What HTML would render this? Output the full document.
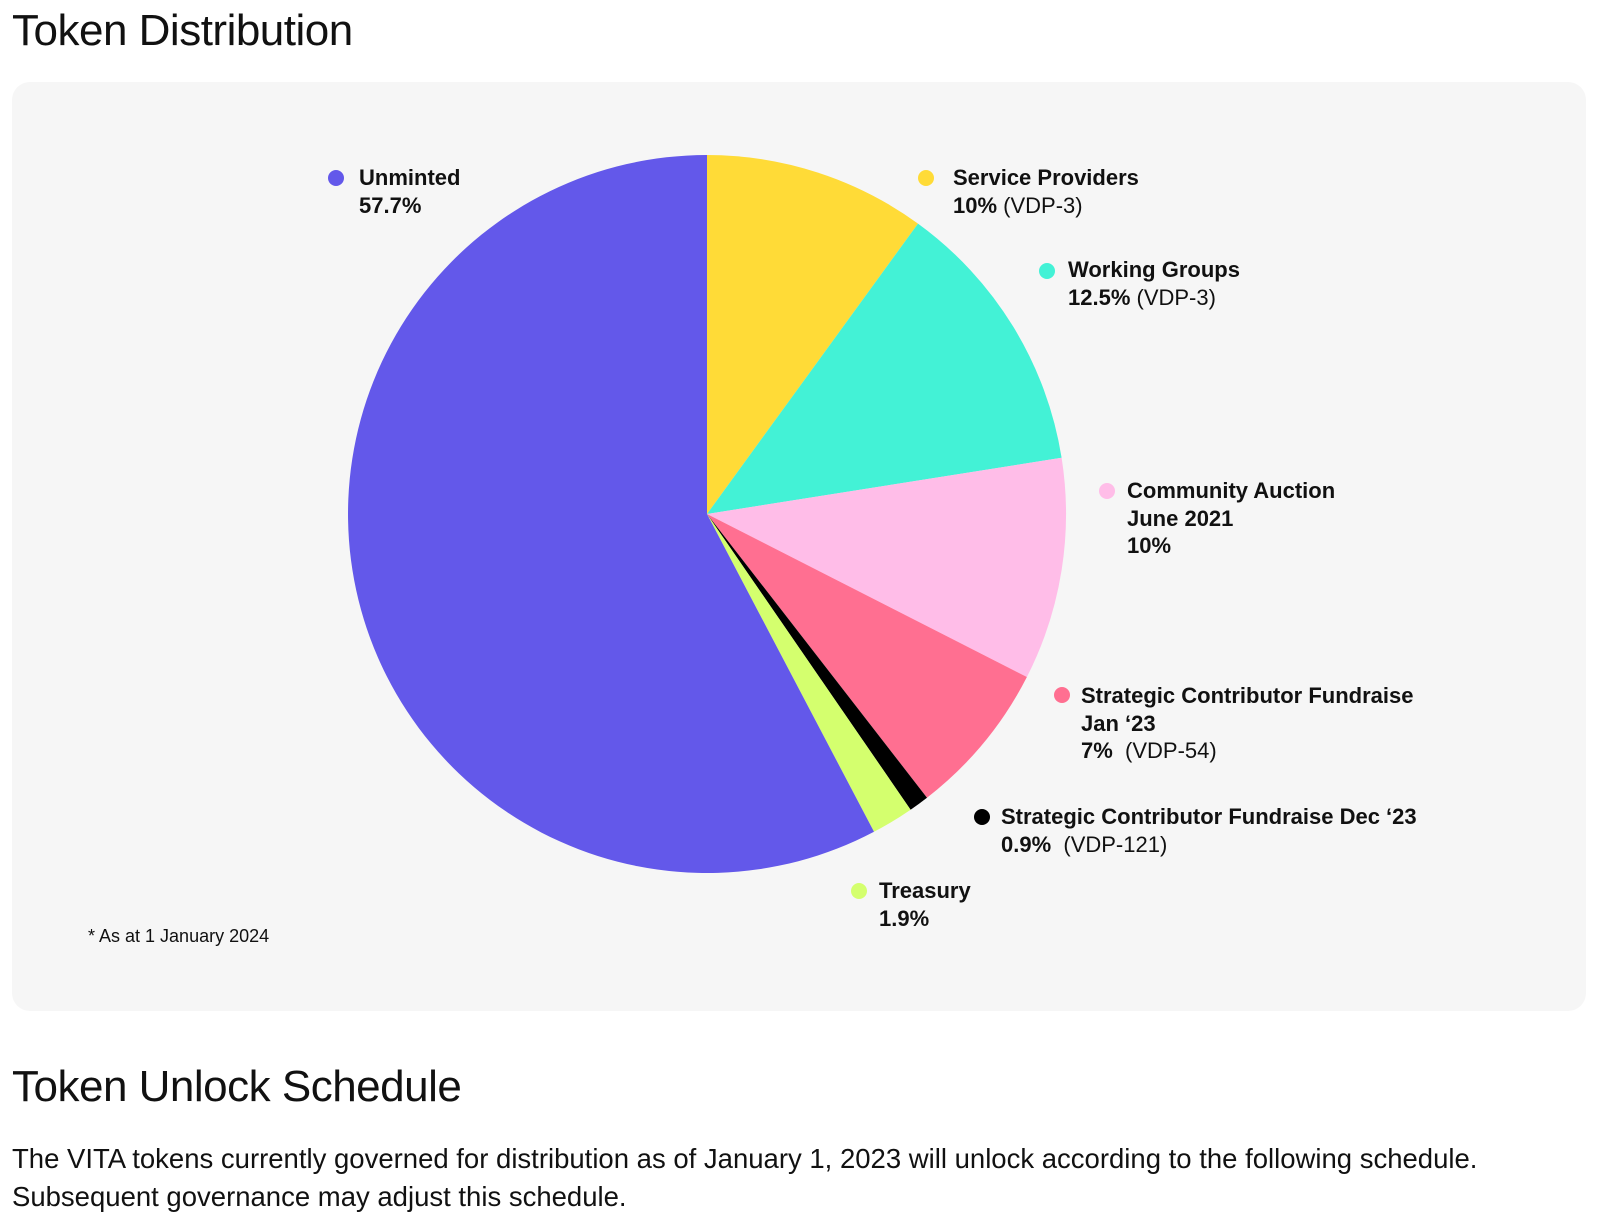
<!DOCTYPE html>
<html><head><meta charset="utf-8"><style>
body{margin:0;background:#fff;width:1600px;height:1229px;position:relative;font-family:"Liberation Sans",sans-serif;color:#111;overflow:hidden}
.t{position:absolute;left:12px;font-size:44px;letter-spacing:-0.5px;line-height:50px}
.card{position:absolute;left:12px;top:82px;width:1574px;height:929px;background:#f6f6f6;border-radius:18px}
.l{position:absolute;font-size:22px;line-height:27.7px;font-weight:bold;white-space:nowrap}
.l span{font-weight:normal}
.d{position:absolute;width:16px;height:16px;border-radius:50%}
p{position:absolute;left:12px;top:1140px;margin:0;font-size:27.5px;line-height:37.5px;width:1590px;white-space:nowrap}
</style></head><body>
<div class="t" style="top:6px">Token Distribution</div>
<div class="card"></div>
<svg style="position:absolute;left:0;top:0" width="1600" height="1229">
<g transform="translate(-3,-1)">
<path d="M710 515 L710 156 A359 359 0 0 1 921 224.6 Z" fill="#FFDB37"/>
<path d="M710 515 L921 224.6 A359 359 0 0 1 1064.6 458.8 Z" fill="#43F2D6"/>
<path d="M710 515 L1064.6 458.8 A359 359 0 0 1 1029.9 678 Z" fill="#FFBDE8"/>
<path d="M710 515 L1029.9 678 A359 359 0 0 1 930 798.7 Z" fill="#FF6F91"/>
<path d="M710 515 L930 798.7 A359 359 0 0 1 913.6 810.7 Z" fill="#000"/>
<path d="M710 515 L913.6 810.7 A359 359 0 0 1 877 832.8 Z" fill="#D4FF6E"/>
<path d="M710 515 L877 832.8 A359 359 0 1 1 710 156 Z" fill="#6358EA"/>
</g>
</svg>
<div class="d" style="left:328px;top:170px;background:#6358EA"></div>
<div class="l" style="left:359px;top:164px">Unminted<br>57.7%</div>
<div class="d" style="left:918px;top:170px;background:#FFDB37"></div>
<div class="l" style="left:953px;top:164px">Service Providers<br>10% <span>(VDP-3)</span></div>
<div class="d" style="left:1039px;top:263px;background:#43F2D6"></div>
<div class="l" style="left:1068px;top:256px">Working Groups<br>12.5% <span>(VDP-3)</span></div>
<div class="d" style="left:1099px;top:483px;background:#FFBDE8"></div>
<div class="l" style="left:1127px;top:477px">Community Auction<br>June 2021<br>10%</div>
<div class="d" style="left:1054px;top:687px;background:#FF6F91"></div>
<div class="l" style="left:1081px;top:682px">Strategic Contributor Fundraise<br>Jan ‘23<br>7% &nbsp;<span>(VDP-54)</span></div>
<div class="d" style="left:974px;top:809px;background:#000"></div>
<div class="l" style="left:1001px;top:803px">Strategic Contributor Fundraise Dec ‘23<br>0.9% &nbsp;<span>(VDP-121)</span></div>
<div class="d" style="left:851px;top:883px;background:#D4FF6E"></div>
<div class="l" style="left:879px;top:877px">Treasury<br>1.9%</div>
<div style="position:absolute;left:88px;top:926px;font-size:18px">* As at 1 January 2024</div>
<div class="t" style="top:1062px">Token Unlock Schedule</div>
<p>The VITA tokens currently governed for distribution as of January 1, 2023 will unlock according to the following schedule.<br>Subsequent governance may adjust this schedule.</p>
</body></html>
